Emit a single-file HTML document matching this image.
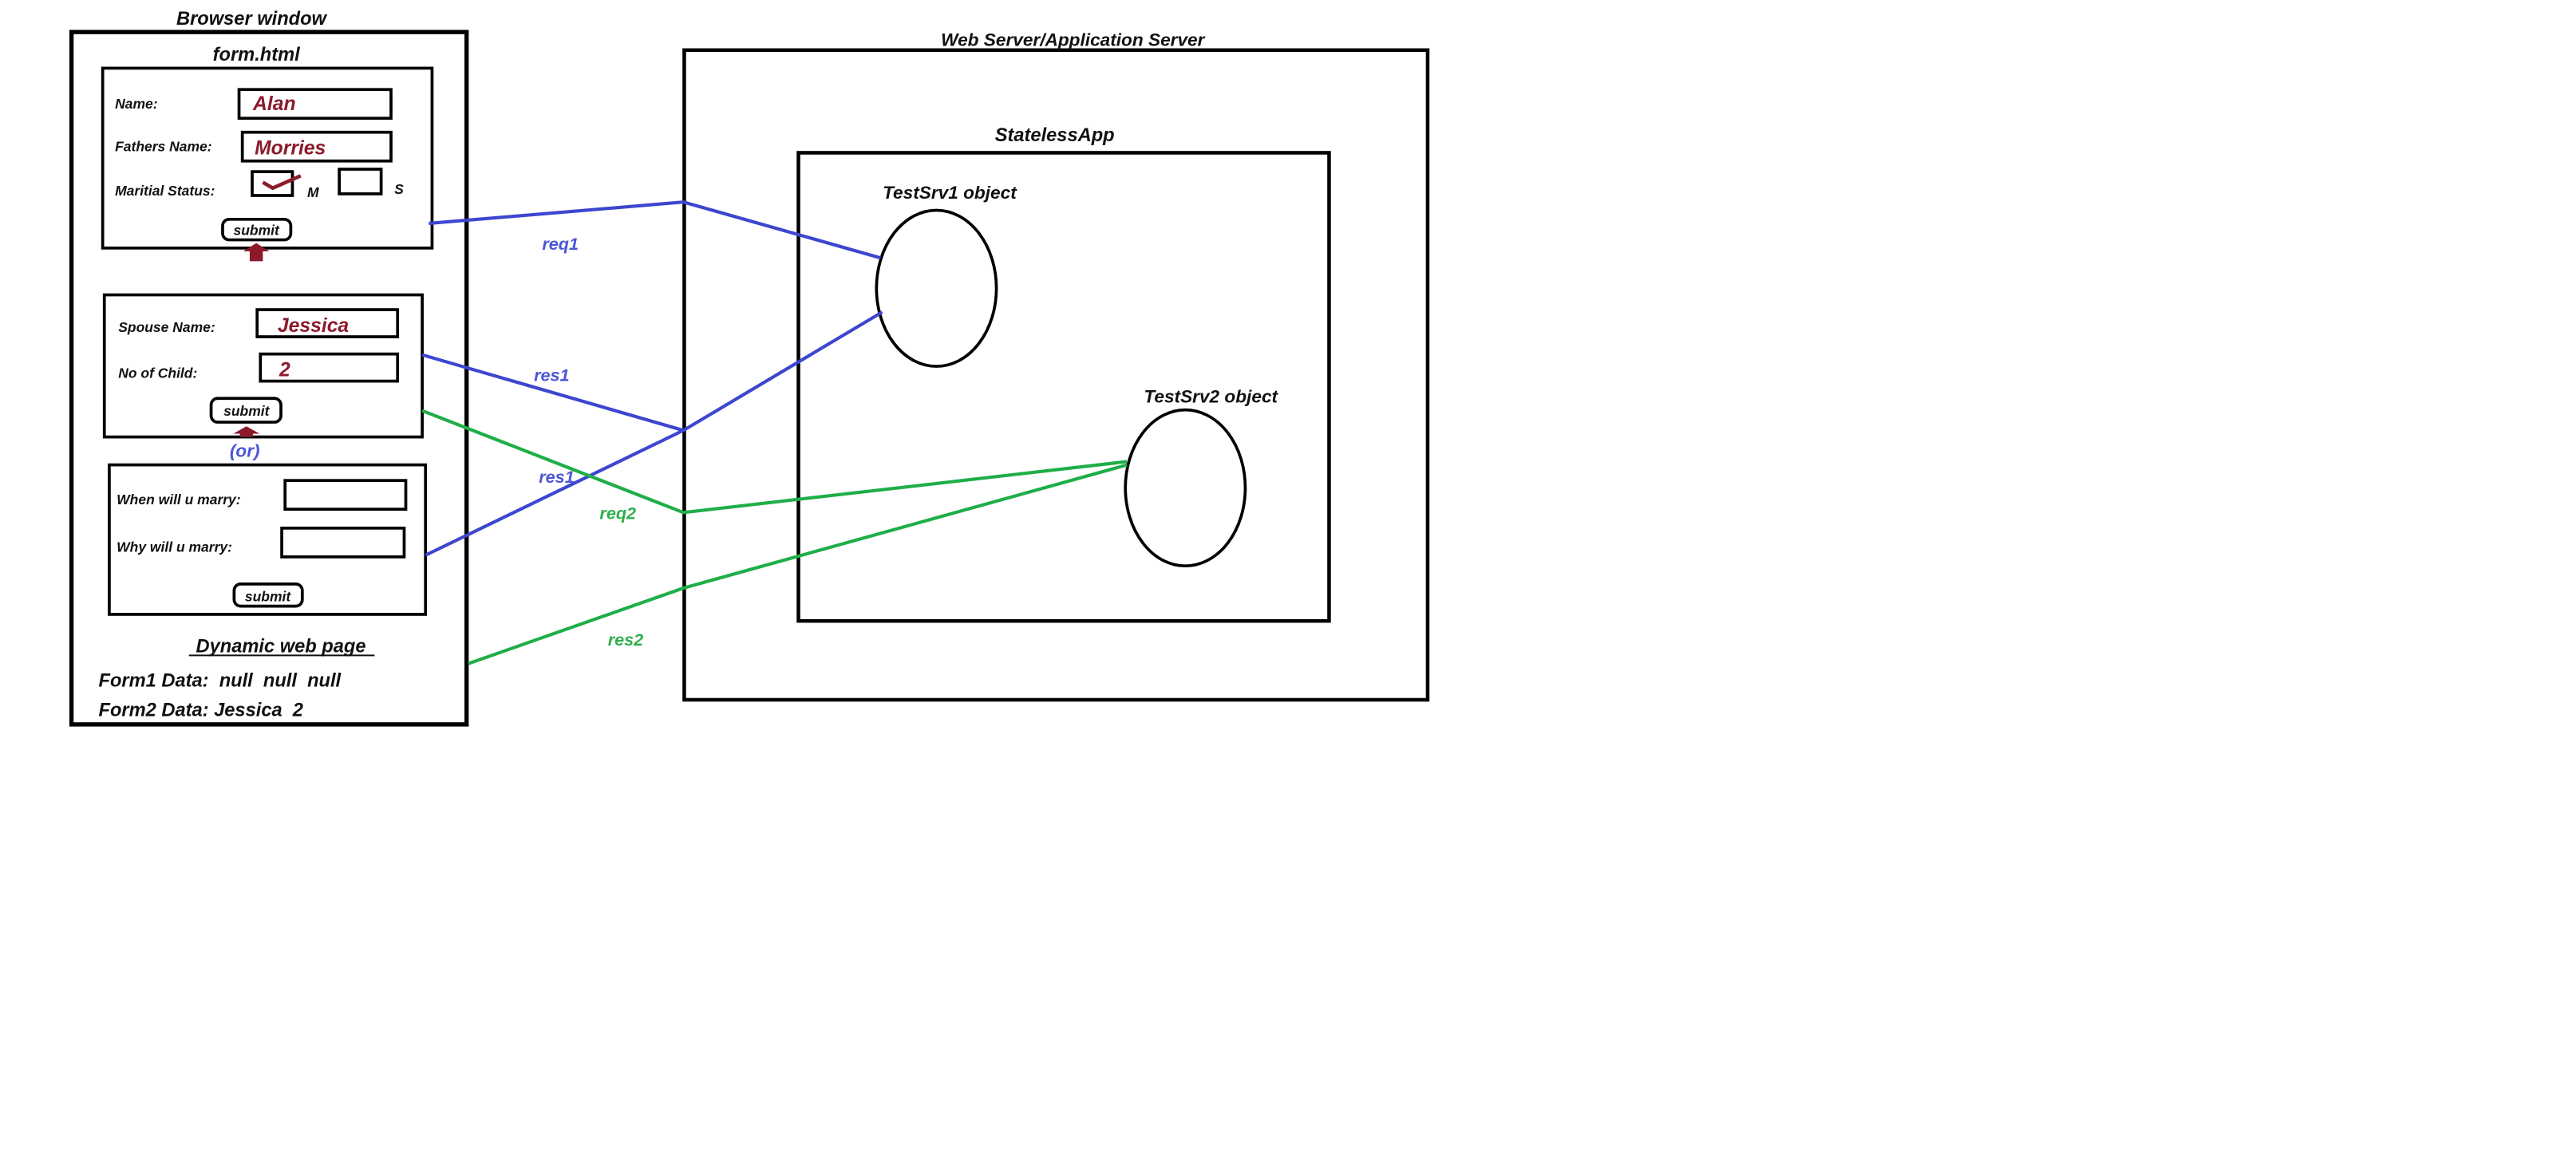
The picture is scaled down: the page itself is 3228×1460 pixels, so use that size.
<!DOCTYPE html>
<html><head><meta charset="utf-8"><style>
html,body{margin:0;padding:0;background:#fff;}
svg{display:block;}
text{font-family:"Liberation Sans",sans-serif;font-weight:bold;font-style:italic;white-space:pre;}
</style></head><body>
<svg width="3228" height="1460" viewBox="0 0 1568 709.2" xmlns="http://www.w3.org/2000/svg">
<rect width="1568" height="709.2" fill="#fff"/>
<g fill="none" stroke="#000">
<rect x="43.5" y="19.5" width="240.5" height="421.5" stroke-width="2.6"/>
<rect x="62.5" y="41.5" width="200.5" height="109.5" stroke-width="1.8"/>
<rect x="145.5" y="54.5" width="92.5" height="17.5" stroke-width="1.8"/>
<rect x="147.5" y="80.5" width="90.5" height="17.5" stroke-width="1.8"/>
<rect x="153.5" y="104.5" width="24.5" height="14.5" stroke-width="1.8"/>
<rect x="206.5" y="103" width="25.5" height="15" stroke-width="1.8"/>
<rect x="135.5" y="133.5" width="41.5" height="12.5" rx="4" stroke-width="1.8"/>
<rect x="63.5" y="179.5" width="193.5" height="86.5" stroke-width="1.8"/>
<rect x="156.5" y="188.5" width="85.5" height="16.5" stroke-width="1.8"/>
<rect x="158.5" y="215.5" width="83.5" height="16.5" stroke-width="1.8"/>
<rect x="128.5" y="242.5" width="42.5" height="14.5" rx="4" stroke-width="1.8"/>
<rect x="66.5" y="283" width="192.5" height="91" stroke-width="1.8"/>
<rect x="173.5" y="292.5" width="73.5" height="17.5" stroke-width="1.8"/>
<rect x="171.5" y="321.5" width="74.5" height="17.5" stroke-width="1.8"/>
<rect x="142.5" y="355.5" width="41.5" height="13.5" rx="4" stroke-width="1.8"/>
<rect x="416.5" y="30.5" width="452.5" height="395.5" stroke-width="2.2"/>
<rect x="486" y="93" width="323" height="285" stroke-width="2.2"/>
<ellipse cx="570" cy="175.5" rx="36.5" ry="47.5" stroke-width="1.8"/>
<ellipse cx="721.5" cy="297" rx="36.5" ry="47.5" stroke-width="1.8"/>
</g>
<path d="M160 111 L166 114.5 L183 107" fill="none" stroke="#8b1a2b" stroke-width="2.2"/>
<path d="M156 148 L164 153 L160 153 L160 159 L152 159 L152 153 L148 153 Z" fill="#8b1a2b"/>
<path d="M150 259.5 L158 264 L154 264 L154 266 L146 266 L146 264 L142 264 Z" fill="#8b1a2b"/>
<g fill="none" stroke="#3c46cf" stroke-width="2">
<polyline points="261,136 416,123 536,157"/>
<polyline points="257,216 416,262"/>
<polyline points="259,338 416,262 537,190"/>
</g>
<g fill="none" stroke="#1fae48" stroke-width="2">
<polyline points="257,250 416,312 686,281"/>
<polyline points="285,404 416,358 686,283"/>
</g>
<g font-size="11.5" fill="#111" text-anchor="middle">
<text x="153" y="15">Browser window</text>
<text x="156" y="37">form.html</text>
<text x="653" y="28" font-size="11">Web Server/Application Server</text>
<text x="642" y="86">StatelessApp</text>
<text x="578" y="121" font-size="11">TestSrv1 object</text>
<text x="737" y="245" font-size="11">TestSrv2 object</text>
<text x="171" y="397">Dynamic web page</text>
</g>
<line x1="115" y1="399" x2="228" y2="399" stroke="#111" stroke-width="1"/>
<g font-size="8.5" fill="#111">
<text x="70" y="66">Name:</text>
<text x="70" y="92">Fathers Name:</text>
<text x="70" y="119">Maritial Status:</text>
<text x="187" y="120">M</text>
<text x="240" y="118">S</text>
<text x="72" y="202">Spouse Name:</text>
<text x="72" y="230">No of Child:</text>
<text x="71" y="307">When will u marry:</text>
<text x="71" y="336">Why will u marry:</text>
</g>
<g font-size="8.5" fill="#111" text-anchor="middle">
<text x="156" y="143">submit</text>
<text x="150" y="253">submit</text>
<text x="163" y="366">submit</text>
</g>
<g font-size="12" fill="#8b1a2b">
<text x="154" y="67">Alan</text>
<text x="155" y="94">Morries</text>
<text x="169" y="202">Jessica</text>
<text x="170" y="229">2</text>
</g>
<text x="149" y="278" font-size="11" fill="#4a56d6" text-anchor="middle">(or)</text>
<g font-size="11.5" fill="#111">
<text x="60" y="418">Form1 Data:  null  null  null</text>
<text x="60" y="436">Form2 Data: Jessica  2</text>
</g>
<g font-size="10.5" fill="#4a56d6">
<text x="330" y="152">req1</text>
<text x="325" y="232">res1</text>
<text x="328" y="294">res1</text>
</g>
<g font-size="10.5" fill="#2fae4c">
<text x="365" y="316">req2</text>
<text x="370" y="393">res2</text>
</g>
</svg>
</body></html>
